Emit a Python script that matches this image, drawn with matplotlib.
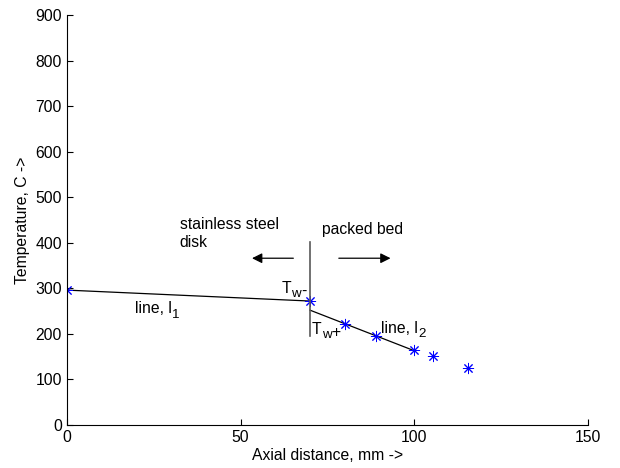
import numpy as np
import matplotlib.pyplot as plt

plt.rcParams['font.family'] = ['Liberation Sans', 'DejaVu Sans']
plt.rcParams['font.size'] = 11.3

# measured temperatures
x_pts = [0, 70, 80, 89, 100, 105.5, 115.5]
t_pts = [296, 272, 222, 196, 164, 152, 124]

# fitted lines
l1_x = [0, 70]
l1_t = [296, 272]
l2_x = [70, 100]
l2_t = [252, 163]

fig = plt.figure(figsize=(6.2, 4.68), dpi=100)
ax = fig.add_axes([0.108, 0.092, 0.840, 0.876])

ax.plot(l1_x, l1_t, color="black", lw=0.9)
ax.plot(l2_x, l2_t, color="black", lw=0.9)
ax.plot(x_pts, t_pts, linestyle="none", marker=(8, 2, 0), color="blue", ms=8, mew=0.7)

# wall position
ax.plot([70, 70], [195, 401], color="0.35", lw=1.2)

ax.annotate("", xy=(52.5, 366), xytext=(66, 366),
            arrowprops=dict(arrowstyle="-|>", color="black", lw=0.9, mutation_scale=15))
ax.annotate("", xy=(94, 366), xytext=(77.5, 366),
            arrowprops=dict(arrowstyle="-|>", color="black", lw=0.9, mutation_scale=15))


def sub_text(x, y, main, sub, tail="", size=11.3):
    t = ax.text(x, y, main, ha="left", va="center", fontsize=size)
    s = ax.annotate(sub, xy=(1, 0.1), xycoords=t, ha="left", va="center",
                    fontsize=size * 0.85)
    if tail:
        ax.annotate(tail, xy=(1, 0.3), xycoords=(s, t), ha="left", va="center",
                    fontsize=size)


ax.text(32.5, 420, "stainless steel\ndisk", ha="left", va="center", linespacing=1.2)
ax.text(73.5, 428, "packed bed", ha="left", va="center")
sub_text(61.8, 300, "T", "w", "-")
sub_text(70.6, 210, "T", "w", "+")
sub_text(19.5, 255, "line, l", "1")
sub_text(90.5, 212, "line, l", "2")

ax.set_xlim(0, 150)
ax.set_ylim(0, 900)
ax.set_xticks([0, 50, 100, 150])
ax.set_yticks(np.arange(0, 901, 100))
ax.set_xlabel("Axial distance, mm ->", labelpad=2)
ax.set_ylabel("Temperature, C ->", labelpad=4)
ax.spines["top"].set_visible(False)
ax.spines["right"].set_visible(False)
ax.tick_params(direction="in", length=4, width=0.8)

fig.savefig("out.png", dpi=100)
